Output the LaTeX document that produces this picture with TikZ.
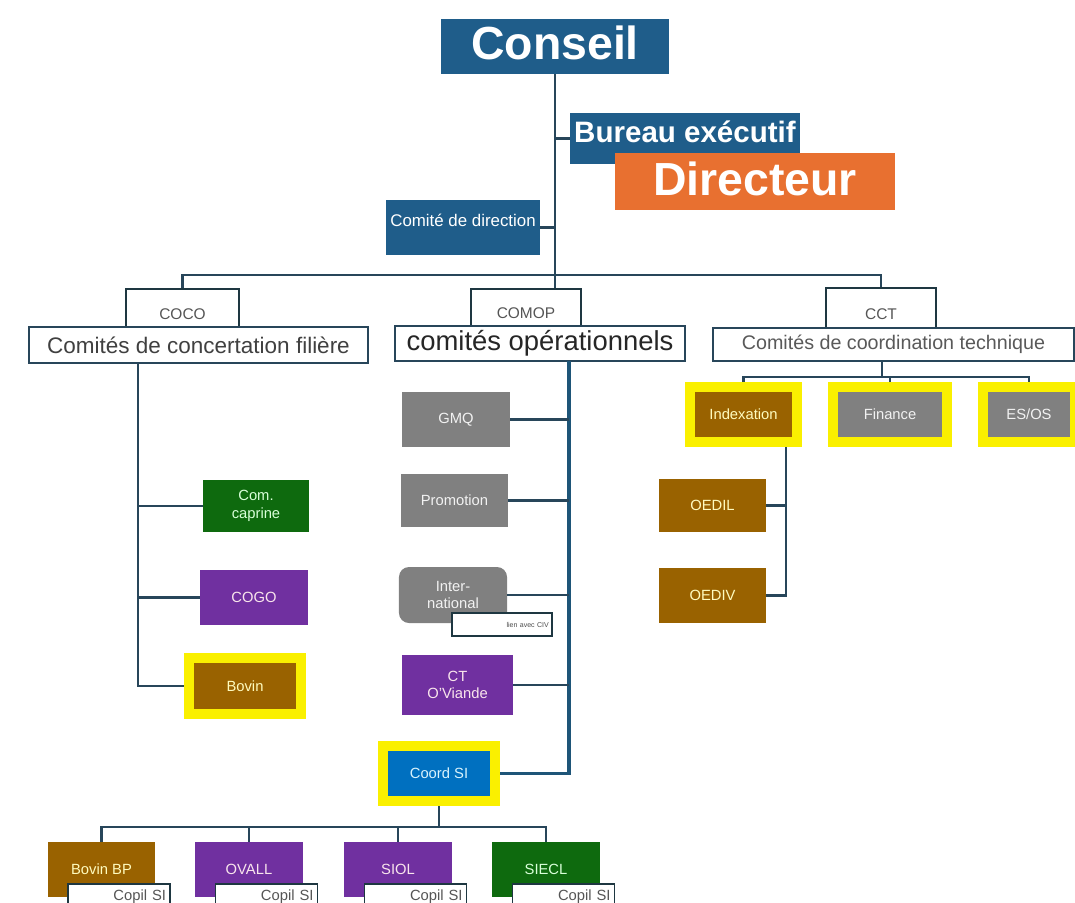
\documentclass[tikz,border=0pt]{standalone}
\usepackage{fontspec}
\setmainfont{Liberation Sans}

\definecolor{cblue}{RGB}{31,93,138}
\definecolor{corange}{RGB}{232,112,48}
\definecolor{cgreen}{RGB}{14,106,14}
\definecolor{cpurple}{RGB}{112,48,160}
\definecolor{cbrown}{RGB}{153,98,0}
\definecolor{cgray}{RGB}{128,128,128}
\definecolor{ccoord}{RGB}{0,112,192}
\definecolor{cyellow}{RGB}{250,240,0}
\definecolor{cline}{RGB}{40,70,90}
\definecolor{ctrunk}{RGB}{30,85,120}
\definecolor{cedge}{RGB}{30,55,65}
\definecolor{cheadtext}{RGB}{85,85,85}

\begin{document}
\begin{tikzpicture}[x=0.025cm, y=-0.025cm,
    % boxes of the committees
    unit/.style={rectangle, inner sep=0pt, align=center, minimum width=2.7cm, minimum height=1.375cm, font=\fontsize{10.5}{12.5}\selectfont},
    hl/.style={draw=cyellow, line width=0.25cm},
    head/.style={rectangle, draw=cedge, fill=white, line width=1.2pt, inner sep=0pt},
    copil/.style={rectangle, draw=cedge, fill=white, line width=1pt, inner xsep=0.1cm, inner ysep=0pt, text width=2.35cm, minimum height=0.65cm, align=right, text=cheadtext, font=\fontsize{10.5}{12}\selectfont},
    % connectors
    link/.style={draw=cline, line width=1.6pt},
    trunk/.style={draw=ctrunk, line width=2.2pt}
]

    % Page
    \clip (0,0) rectangle (1075,902);
    \fill[white] (0,0) rectangle (1075,902);

    % Conseil and direction
    \node[fill=cblue, text=white, inner sep=0pt, minimum width=5.7cm, minimum height=1.375cm, text depth=6pt, font=\bfseries\fontsize{33}{38}\selectfont] (conseil) at (555,46.5) {Conseil};
    \node[fill=cblue, text=white, inner sep=0pt, minimum width=5.75cm, minimum height=1.275cm, text depth=10pt, font=\bfseries\fontsize{21}{24}\selectfont] (bureau) at (685,138.5) {Bureau exécutif};
    \node[fill=corange, text=white, inner sep=0pt, minimum width=7cm, minimum height=1.425cm, text depth=4pt, font=\bfseries\fontsize{33}{38}\selectfont] (directeur) at (755,181.5) {Directeur};
    \node[fill=cblue, text=white, inner sep=0pt, minimum width=3.85cm, minimum height=1.375cm, text depth=10pt, font=\fontsize{12}{14}\selectfont] (cdir) at (463,227.5) {Comité de direction};

    % The three families of committees
    \node[head, minimum width=2.825cm, minimum height=0.975cm, text height=16pt, text=cheadtext, font=\fontsize{11}{13}\selectfont] (coco) at (182.5,308.5) {COCO};
    \node[head, draw=cline, minimum width=8.475cm, minimum height=0.9cm, text=black!75, font=\fontsize{16}{19}\selectfont] (cocol) at (198.5,345) {Comités de concertation filière};
    \node[head, minimum width=2.75cm, minimum height=0.925cm, text height=16pt, text=cheadtext, font=\fontsize{11}{13}\selectfont] (comop) at (526,307.5) {COMOP};
    \node[head, draw=cline, minimum width=7.25cm, minimum height=0.875cm, text=black!85, font=\fontsize{19.5}{22}\selectfont] (comopl) at (540,343.5) {comités opérationnels};
    \node[head, minimum width=2.75cm, minimum height=1cm, text height=16pt, text=cheadtext, font=\fontsize{11}{13}\selectfont] (cct) at (881,308) {CCT};
    \node[head, draw=cline, minimum width=9.025cm, minimum height=0.825cm, text=black!65, font=\fontsize{14}{17}\selectfont] (cctl) at (893.5,344.5) {Comités de coordination technique};

    % COCO
    \node[unit, fill=cgreen, text=green!15, minimum width=2.65cm, minimum height=1.3cm] (caprine) at (256,506) {Com.\\caprine};
    \node[unit, fill=cpurple, text=purple!10] (cogo) at (254,597.5) {COGO};
    \node[unit, hl, fill=cbrown, text=yellow!25, minimum width=2.8cm, minimum height=1.4cm] (bovin) at (245,686) {Bovin};

    % COMOP
    \node[unit, fill=cgray, text=white!90!gray] (gmq) at (456,419.5) {GMQ};
    \node[unit, fill=cgray, text=white!90!gray, minimum width=2.675cm, minimum height=1.325cm] (promo) at (454.5,500.5) {Promotion};
    \node[unit, fill=cgray, text=white!90!gray, rounded corners=0.25cm, minimum height=1.4cm] (inter) at (453,595) {Inter-\\national};
    \node[rectangle, draw=cedge, fill=white, line width=1pt, inner xsep=0.08cm, inner ysep=0pt, text width=2.34cm, minimum height=0.575cm, align=right, text=black!70, font=\fontsize{5}{6}\selectfont] (internote) at (502,624.5) {lien avec CIV};
    \node[unit, fill=cpurple, text=purple!10, minimum width=2.775cm, minimum height=1.5cm] (ctov) at (457.5,685) {CT\\O'Viande};
    \node[unit, hl, fill=ccoord, text=white!85!cyan, minimum width=2.8cm] (coord) at (439,773.5) {Coord SI};

    % SI projects
    \node[unit, fill=cbrown, text=yellow!25, minimum width=2.675cm] (bovinbp) at (101.5,869.5) {Bovin BP};
    \node[unit, fill=cpurple, text=purple!10] (ovall) at (249,869.5) {OVALL};
    \node[unit, fill=cpurple, text=purple!10] (siol) at (398,869.5) {SIOL};
    \node[unit, fill=cgreen, text=green!15] (siecl) at (546,869.5) {SIECL};
    \node[copil] (copila) at (119,897) {Copil SI};
    \node[copil] (copilb) at (266.5,897) {Copil SI};
    \node[copil] (copilc) at (415.5,897) {Copil SI};
    \node[copil] (copild) at (563.5,897) {Copil SI};

    % CCT
    \node[unit, hl, fill=cbrown, text=yellow!25, minimum width=2.675cm] (indexation) at (743.5,414.5) {Indexation};
    \node[unit, hl, fill=cgray, text=white!90!gray, minimum width=2.85cm] (finance) at (890,414.5) {Finance};
    \node[unit, hl, fill=cgray, text=white!90!gray, minimum width=2.3cm] (esos) at (1029,414.5) {ES/OS};
    \node[unit, fill=cbrown, text=yellow!25, minimum width=2.675cm, minimum height=1.325cm] (oedil) at (712.5,505.5) {OEDIL};
    \node[unit, fill=cbrown, text=yellow!25, minimum width=2.675cm] (oediv) at (712.5,595.5) {OEDIV};

    % Main line
    \coordinate (bar) at (555,275);
    \draw[link] (conseil.south) -- (bar);
    \draw[link] (bureau.west) -- (bureau.west -| bar);
    \draw[link] (cdir.east) -- (cdir.east -| bar);
    \draw[link] (coco.north) |- (bar) -| (cct.north);
    \draw[link] (bar) -- (bar |- comop.north);

    % COCO line
    \coordinate (cocoline) at (138,363);
    \draw[link] (cocoline) |- (bovin.west);
    \draw[link] (caprine.west) -- (caprine.west -| cocoline);
    \draw[link] (cogo.west) -- (cogo.west -| cocoline);

    % COMOP line
    \coordinate (comopline) at (569,361);
    \draw[trunk] (comopline) |- (coord.east);
    \draw[link] (gmq.east) -- (gmq.east -| comopline);
    \draw[link] (promo.east) -- (promo.east -| comopline);
    \draw[link] (inter.east) -- (inter.east -| comopline);
    \draw[link] (ctov.east) -- (ctov.east -| comopline);

    % Coord SI to the projects
    \coordinate (sibar) at (439,827);
    \draw[link] (coord.south) -- (sibar);
    \draw[link] (bovinbp.north) |- (sibar) -| (siecl.north);
    \draw[link] (ovall.north) -- (ovall.north |- sibar);
    \draw[link] (siol.north) -- (siol.north |- sibar);

    % CCT line
    \coordinate (cctbar) at (882,377);
    \draw[link] (cctbar |- cctl.south) -- (cctbar);
    \draw[link] (indexation.north) |- (cctbar) -| (esos.north);
    \draw[link] (finance.north) -- (finance.north |- cctbar);

    % Indexation groups
    \coordinate (idxline) at (786,447);
    \draw[link] (idxline) |- (oediv.east);
    \draw[link] (oedil.east) -- (oedil.east -| idxline);
\end{tikzpicture}
\end{document}
